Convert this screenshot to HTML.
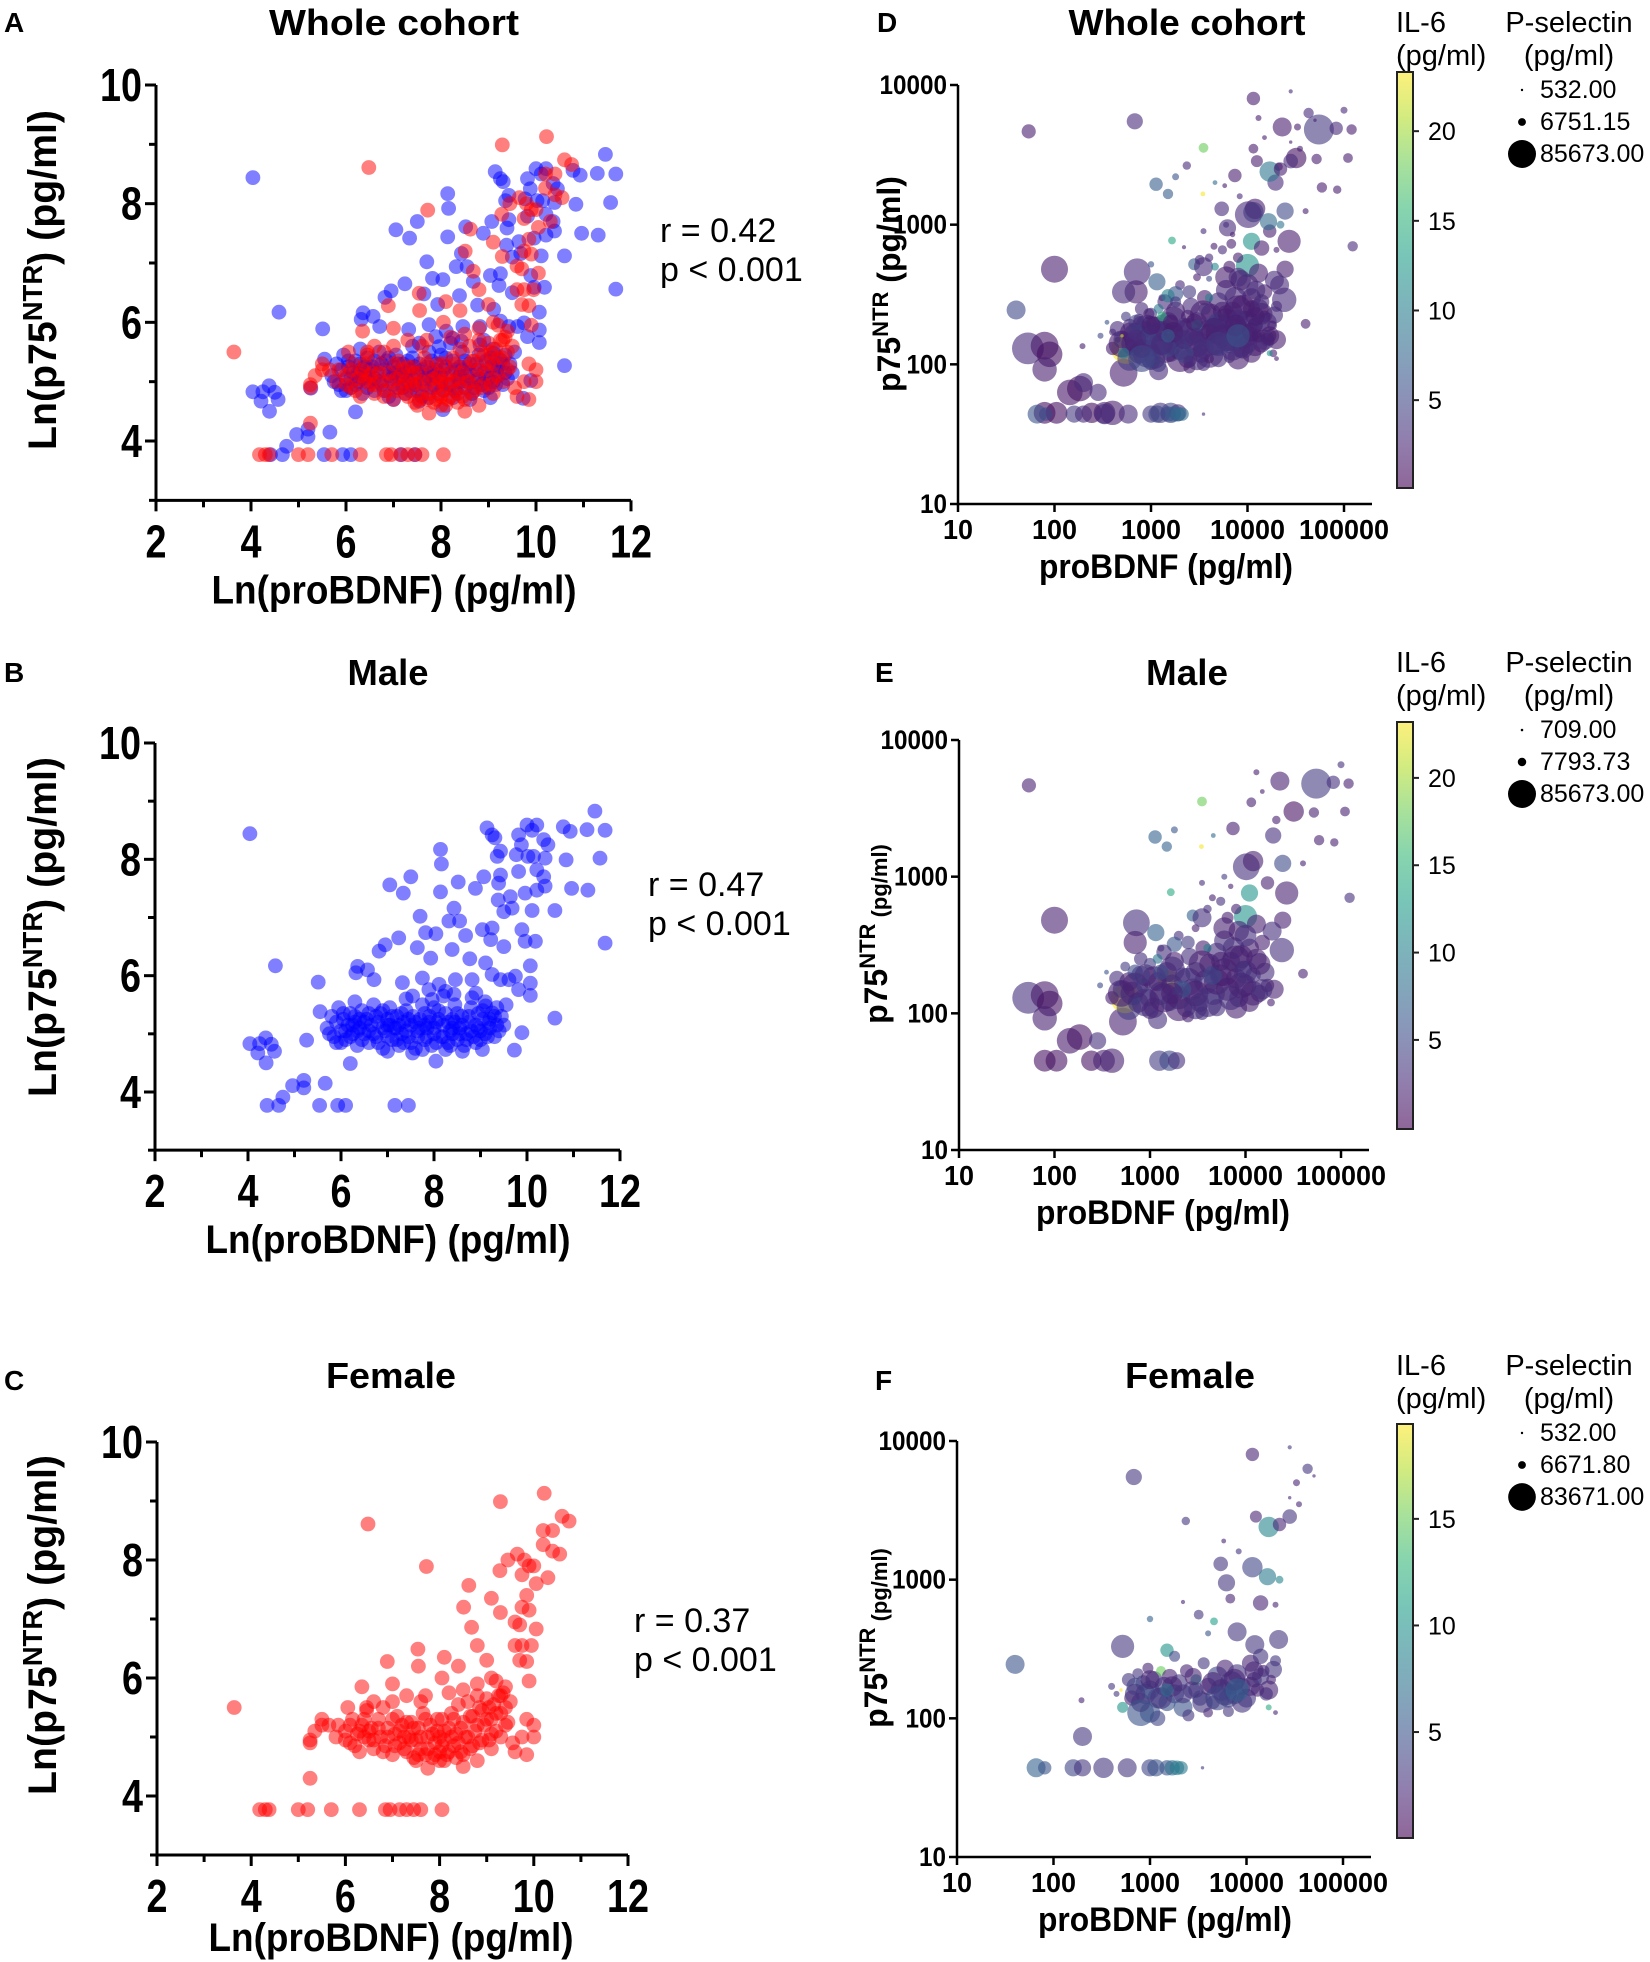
<!DOCTYPE html>
<html><head><meta charset="utf-8"><title>proBDNF vs p75NTR</title>
<style>
html,body{margin:0;padding:0;background:#fff;}
svg{display:block;font-family:"Liberation Sans",Arial,sans-serif;}
</style></head>
<body>
<svg id="fig" width="1650" height="1962" viewBox="0 0 1650 1962" xmlns="http://www.w3.org/2000/svg">
<defs>
<linearGradient id="virGrad" x1="0" y1="1" x2="0" y2="0">
<stop offset="0" stop-color="#440154"/><stop offset="0.111" stop-color="#482878"/><stop offset="0.222" stop-color="#3e4a89"/><stop offset="0.333" stop-color="#31688e"/><stop offset="0.444" stop-color="#26828e"/><stop offset="0.556" stop-color="#1f9e89"/><stop offset="0.667" stop-color="#35b779"/><stop offset="0.778" stop-color="#6dcd59"/><stop offset="0.889" stop-color="#b4de2c"/><stop offset="1" stop-color="#fde725"/>
</linearGradient>
</defs>
</svg>
<script>
// ---------- DATA ----------
const maleLnMain = [
[4.04,8.44],[4.59,6.17],[4.04,4.83],[4.25,4.83],[4.38,4.93],[4.5,4.82],[4.57,4.70],[4.21,4.67],[4.39,4.50],
[4.41,3.77],[4.66,3.77],[5.54,3.77],[5.93,3.77],[6.1,3.77],[7.16,3.77],[7.45,3.77],[4.75,3.91],[4.96,4.11],[5.2,4.2],[5.2,4.07],[5.66,4.15],
[5.26,4.89],[5.55,5.38],[5.51,5.89],[6.2,4.49],
[6.36,6.16],[6.57,6.10],[6.71,5.93],[6.32,6.05],[6.82,6.42],[6.95,6.53],[7.24,6.65],[7.05,7.56],[7.34,7.42],[7.5,7.7],
[7.70,7.02],[7.64,6.48],[7.82,6.74],[7.93,6.30],[8.04,6.72],[8.14,8.17],[8.16,7.92],[8.14,7.44],
[8.43,7.16],[8.52,7.61],[8.32,6.94],[8.55,6.94],[8.68,6.69],[8.77,6.29],[8.82,5.93],[8.39,6.45],
[8.89,7.50],[9.07,7.70],[9.14,8.54],[9.25,8.42],[9.31,8.37],[9.36,8.05],[9.43,8.14],[9.39,7.59],[9.43,7.73],[9.38,7.30],[9.50,7.10],[9.64,7.36],[9.68,7.16],
[9.04,6.79],[9.25,6.82],[9.22,6.62],[9.50,6.50],[9.11,6.22],[9.25,6.02],[9.43,5.93],[9.61,5.93],[9.75,5.99],
[9.77,8.08],[9.82,8.42],[9.88,8.25],[10.0,8.59],[10.11,8.50],[10.21,8.59],[10.02,8.05],[10.14,8.05],[10.36,8.34],[10.45,8.25],[10.39,8.02],[10.21,7.82],[10.36,7.70],[10.39,7.54],[10.21,7.47],[9.96,7.42],[10.11,7.12],[9.82,7.79],[10.6,7.12],
[9.89,6.79],[9.96,6.59],[10.18,6.59],[10.07,6.17],[10.07,5.87],[9.82,5.76],[10.07,5.66],[10.6,5.27],[9.89,5.02],[9.73,4.72],[9.04,4.73],
[10.78,8.56],[10.93,8.48],[11.29,8.51],[11.68,8.50],[11.46,8.83],[10.84,7.99],[11.57,8.02],[10.96,7.50],[11.31,7.47],[11.68,6.56],
[8.11,5.85],[7.89,5.76],[7.54,5.65],[7.32,5.88],[7.75,5.96],[8.46,5.93],[8.25,5.73],[8.43,5.68],[7.96,5.59],
[8.82,5.62],[9.11,5.48],[9.25,5.36],[9.18,5.19],
[7.0,4.70],[7.75,4.73],[8.04,4.53],[8.61,4.70],[8.25,4.73],[7.54,4.67],
[5.7,5.1],[5.8,5.3],[5.85,4.95],[5.9,5.2],[5.95,5.45],[6.0,5.05],[6.05,5.25],[6.1,4.9],[6.15,5.15],[6.2,5.35],[6.25,5.0],[6.3,5.2],[6.35,4.8],[6.4,5.1],[6.45,5.4],[6.5,5.0],[6.55,5.25],[6.6,4.85],[6.65,5.15],[6.7,5.5],[6.75,4.95],[6.8,5.2],[6.85,5.35],[6.9,4.75],[6.95,5.05],[7.0,5.25],[7.05,5.45],[7.1,4.9],[7.15,5.1],[7.2,5.3],[7.25,4.8],[7.3,5.0],[7.35,5.2],[7.4,5.4],[7.45,4.95],[7.5,5.15],[7.55,5.3],[7.6,4.75],[7.65,5.05],[7.7,5.25],[7.75,5.5],[7.8,4.9],[7.85,5.1],[7.9,5.3],[7.95,4.8],[8.0,5.0],[8.05,5.2],[8.1,5.4],[8.15,4.95],[8.2,5.15],[8.25,5.35],[8.3,4.85],[8.35,5.05],[8.4,5.25],[8.45,5.5],[8.5,4.9],[8.55,5.1],[8.6,5.3],[8.65,4.8],[8.7,5.0],[8.75,5.2],[8.8,5.45],[8.85,4.95],[8.9,5.15],[8.95,5.35],[9.0,5.05],[9.05,5.25],[9.1,5.55],[9.15,4.95],[9.2,5.1],[9.3,5.3],[9.35,5.15],[6.0,4.85],[6.6,5.05],[7.2,5.1],[7.8,5.15],[8.4,5.0],[9.0,4.9],[6.3,5.55],[7.4,5.6],[8.2,5.65],[8.9,5.7]
];
const maleLnCluster = [
[5.75,5.0],[5.9,4.85],[6.05,5.35],[6.1,5.05],[6.2,4.95],[6.3,5.3],[6.35,5.05],[6.45,4.9],[6.5,5.2],[6.6,5.35],[6.7,5.0],[6.75,5.3],[6.8,4.85],[6.9,5.1],[7.0,4.95],[7.05,5.15],[7.1,5.3],[7.2,4.9],[7.25,5.15],[7.3,5.35],[7.4,5.05],[7.45,5.25],[7.5,4.85],[7.6,5.2],[7.65,4.95],[7.7,5.1],[7.8,5.35],[7.85,4.95],[7.9,5.2],[8.0,5.1],[8.05,4.85],[8.1,5.25],[8.2,4.95],[8.3,5.2],[8.35,4.8],[8.4,5.1],[8.5,5.35],[8.55,5.0],[8.6,5.15],[8.7,4.9],[8.75,5.3],[8.8,5.05],[8.9,4.85],[8.95,5.1],[9.05,5.4],[9.1,5.0],[9.2,5.25],[9.3,4.95],[9.35,5.45],[9.4,5.05],[9.45,5.3],[9.5,5.15],[9.55,5.5],[6.4,5.25],[6.9,5.4],[7.35,4.85],[8.45,5.2],[8.0,5.45],[7.0,5.15],[6.25,5.15]
];
const femaleLnMain = [
[3.64,5.50],[4.18,3.77],[4.3,3.77],[4.38,3.77],[5.0,3.77],[5.2,3.77],[5.7,3.77],[6.3,3.77],[6.85,3.77],[6.95,3.77],[7.15,3.77],[7.3,3.77],[7.45,3.77],[7.6,3.77],[8.05,3.77],
[5.25,4.3],[5.25,4.9],[5.25,4.95],[5.35,5.1],[5.5,5.3],[5.5,5.2],[5.65,5.2],[5.85,5.2],[5.8,5.0],
[6.48,8.61],[7.72,7.89],[9.29,8.99],[10.22,9.13],[10.6,8.74],[10.75,8.66],[10.2,8.5],[10.4,8.5],[10.2,8.26],[10.4,8.15],[10.55,8.1],
[8.62,7.57],[8.51,7.2],[8.68,6.86],[8.8,6.55],[9.1,7.35],
[9.28,7.82],[9.45,8.0],[9.65,8.1],[9.8,8.0],[9.75,7.75],[9.9,7.9],[10.05,7.6],[10.0,7.9],[10.3,7.7],[9.29,7.11],[9.6,6.95],[9.7,6.9],[9.85,7.4],[9.75,7.2],[9.9,7.15],[10.05,6.83],
[9.6,6.55],[9.75,6.55],[9.95,6.55],[9.7,6.3],[9.85,6.28],[9.0,6.3],[9.1,6.0],[9.2,5.95],[9.4,5.85],[9.9,5.95],[9.85,5.3],[10.0,5.2],[10.0,5.0],[9.75,5.0],[9.6,4.75],[9.85,4.7],[9.1,4.8],
[6.89,6.28],[7.54,6.49],[7.55,6.2],[8.1,6.35],[8.4,6.2],[8.05,6.0],[7.0,5.9],[6.35,5.85],[6.6,5.6],[7.3,5.7],[7.7,5.7],[8.8,5.9],[8.5,5.8],[9.3,5.7],[6.05,5.5],[6.45,5.5],
[7.75,4.47],[8.1,4.6],[8.5,4.5],[8.8,4.6],
[6.0,5.1],[6.1,4.9],[6.15,5.3],[6.25,5.05],[6.3,4.75],[6.35,5.2],[6.45,5.45],[6.5,4.95],[6.55,5.15],[6.6,4.8],[6.7,5.3],[6.75,5.0],[6.8,5.5],[6.85,4.85],[6.9,5.15],[7.0,4.7],[7.05,5.05],[7.1,5.35],[7.15,4.9],[7.2,5.2],[7.3,4.75],[7.35,5.0],[7.4,5.25],[7.45,4.65],[7.5,4.95],[7.55,5.15],[7.6,4.8],[7.65,5.4],[7.7,4.7],[7.75,5.0],[7.8,5.2],[7.85,4.65],[7.9,4.9],[7.95,5.1],[8.0,4.75],[8.05,5.3],[8.1,4.95],[8.15,4.7],[8.2,5.15],[8.25,5.4],[8.3,4.85],[8.35,5.05],[8.4,5.55],[8.45,4.75],[8.5,5.25],[8.55,5.0],[8.6,5.6],[8.65,4.8],[8.7,5.35],[8.75,5.1],[8.8,5.7],[8.85,4.9],[8.9,5.45],[8.95,5.2],[9.0,5.65],[9.05,4.95],[9.1,5.3],[9.15,5.55],[9.2,5.1],[9.3,5.4],[9.35,5.75],[9.4,5.2],[7.0,5.6],[7.6,5.6],[8.2,5.75],[6.4,5.0],[7.25,5.0],[8.0,5.0]
];
const femaleLnCluster = [
[6.0,4.95],[6.1,5.2],[6.2,4.85],[6.3,5.1],[6.4,5.3],[6.5,5.1],[6.6,4.95],[6.7,5.15],[6.8,4.75],[6.9,5.0],[7.0,5.3],[7.05,4.85],[7.15,5.1],[7.25,4.8],[7.3,5.25],[7.4,4.95],[7.45,5.15],[7.55,4.7],[7.6,5.0],[7.7,5.3],[7.75,4.8],[7.85,5.05],[7.9,4.7],[7.95,5.3],[8.05,4.85],[8.1,5.1],[8.2,4.75],[8.25,5.0],[8.3,5.3],[8.4,4.9],[8.45,5.15],[8.5,4.7],[8.6,5.0],[8.65,5.35],[8.7,4.85],[8.8,5.2],[8.85,5.5],[8.9,4.95],[9.0,5.3],[9.05,5.5],[9.1,5.05],[9.2,5.4],[9.25,5.7],[9.3,5.0],[9.4,5.5],[9.45,5.25],[9.5,5.6],[9.55,4.9],[7.5,4.6],[8.0,4.6],[8.35,4.65]
];
const maleLn = maleLnMain.concat(maleLnCluster);
const femaleLn = femaleLnMain.concat(femaleLnCluster);

// [proBDNF, p75NTR, IL-6, P-selectin]
const maleLogMain = [
[54,4650,2,17000],[100,480,2,61000],[53,130,3,85000],[79,136,1.5,65000],[89,118,1,55000],[79,92,2,50000],[79,45,1,40000],[105,45,1,40000],[144,63,1.5,55000],[183,67,1,55000],[283,63,3,25000],[243,45,1,35000],[400,45,2,50000],[330,45,2,40000],[1250,45,4,35000],[1600,45,5,35000],[1900,45,3,25000],[520,87,2,65000],[550,128,23,70000],[1550,175,22,35000],[720,460,3,60000],[3500,3550,18,8000],[3450,1660,23,2000],[1130,1950,7,15000],[1500,1660,7,9000],[1800,2200,6,4000],[1650,770,14,5000],[4600,2000,8,2000],[22900,5000,2,30000],[55000,4800,4,75000],[83000,4900,3,15000],[120000,4800,2,9000],[100000,6600,3,4000],[32000,3000,1,35000],[52000,2950,2,9000],[110000,3000,2,8000],[59000,1850,2,9000],[85000,1780,2,6000],[40000,1250,2,3000],[123000,700,3,9000],[10200,1180,3,60000],[12000,1300,2,35000],[24500,1250,5,25000],[27000,760,2,45000],[11000,760,12,25000],[10000,510,12,45000],[19500,2000,3,22000],[17000,900,2,15000],[24500,480,2,25000],[24000,290,3,50000],[19000,400,3,30000],[20000,150,2,30000],[40000,195,2,8000],[18500,120,2,5000],[7400,2250,2,15000],[11500,3500,2,8000],[13000,5800,2,3000],[15000,4200,2,2000],[21000,2600,2,6000],
[1300,300,3,4000],[2000,370,3,8000],[2500,330,4,15000],[3000,420,2,5000],[4000,580,3,6000],[4500,700,2,4000],[5500,660,3,7000],[6500,500,2,12000],[8000,580,2,9000],[3500,900,3,3000],[6000,1000,4,3000],[7000,850,2,2500],[2800,520,7,12000],[1800,320,6,20000],[1150,390,7,25000],
[300,160,5,3000],[350,200,6,2000],[400,130,2,15000],[450,180,3,20000],[500,150,5,25000],[550,220,4,8000],[600,170,2,30000],[650,140,3,45000],[700,200,5,20000],[750,120,2,35000],[800,250,3,15000],[850,160,6,18000],[900,190,2,40000],[950,130,3,25000],[1000,230,4,12000],[1100,110,2,35000],[1200,170,3,30000],[1300,140,4,45000],[1400,280,3,20000],[1500,200,2,35000],[1600,120,5,25000],[1700,160,3,40000],[1800,240,2,30000],[2000,130,4,45000],[2200,190,3,20000],[2400,110,2,30000],[2600,260,3,25000],[2800,150,2,40000],[3000,200,4,35000],[3300,120,3,30000],[3600,300,2,20000],[3900,170,3,50000],[4200,230,2,35000],[4600,140,4,45000],[5000,280,3,30000],[5500,190,2,40000],[6000,340,3,35000],[6500,150,2,45000],[7000,240,4,30000],[7500,300,3,40000],[8000,180,2,35000],[8500,130,3,30000],[9000,260,2,45000],[9500,210,4,25000],[10000,160,3,40000],[11000,300,2,30000],[12000,190,3,20000],[13000,250,2,35000],[14000,140,3,25000],[15000,330,2,20000],[16000,200,3,30000],[17000,160,2,15000],[5000,110,3,25000],[2500,95,2,12000],[3500,100,3,15000],[1000,105,2,25000],[700,125,8,10000],[1200,250,9,8000],[4000,300,10,6000],[600,110,4,50000],[1200,90,3,30000],[8000,110,2,40000]
];
const maleLogCluster = [
[500,140,2,60000],[700,160,2,55000],[900,120,3,65000],[1100,180,2,50000],[1400,130,2,70000],[1700,210,3,55000],[2000,110,2,60000],[2500,170,3,65000],[3000,140,2,55000],[3500,230,2,60000],[4000,120,3,70000],[5000,170,2,55000],[6000,200,2,65000],[7000,130,3,50000],[8000,250,2,60000],[9000,160,2,55000],[10000,200,3,45000],[12000,140,2,50000],[14000,230,2,40000],[4500,190,5,30000],[2200,150,6,25000],[3000,110,3,45000],[800,190,4,30000],[1300,200,5,20000],[5500,240,2,30000],[6000,420,2,40000],[3500,500,3,30000],[8500,400,2,35000],[13000,450,2,30000],[10000,370,3,40000],[700,330,2,45000],[1700,140,2,40000],[11000,120,2,30000],[15000,150,3,35000]
];
const femaleLogMain = [
[40,245,5,30000],[680,5500,3,22000],[11500,8000,2,15000],[28000,9000,3,1500],[43000,6300,3,9000],[33000,5000,2,4000],[28000,3900,2,1000],[35000,3500,2,3000],[50000,5600,2,1000],[2350,2650,3,6000],[12500,2850,2,12000],[28000,2850,3,18000],[17000,2400,9,35000],[22000,2500,2,15000],[5800,1900,2,2000],[8300,1600,3,3000],[5400,1300,3,18000],[11500,1230,4,35000],[16500,1050,8,25000],[22000,1000,9,5000],[6200,950,3,25000],[6800,730,2,8000],[14000,680,2,20000],[20000,660,2,3000],[3200,560,3,8000],[4600,500,11,5000],[2200,690,2,1500],[1000,520,6,3500],[8000,420,3,30000],[12200,340,3,30000],[21500,370,3,30000],[520,330,3,45000],[19000,225,3,25000],[4000,410,5,3000],[1500,310,10,15000],[1800,280,4,10000],
[66,44,6,30000],[81,44,5,15000],[160,44,4,25000],[200,44,3,25000],[330,44,3,35000],[580,44,3,30000],[1000,44,4,25000],[1150,44,5,25000],[1500,44,5,20000],[1700,44,7,20000],[1900,44,8,18000],[2100,44,8,15000],[3500,44,3,1000],[200,74,3,30000],[195,135,2,3000],[1000,110,5,35000],
[400,170,3,4000],[450,150,3,3000],[500,160,22,1000],[520,120,10,10000],[600,190,3,15000],[650,140,2,20000],[700,170,4,25000],[750,210,3,10000],[800,130,2,30000],[850,180,4,20000],[900,150,3,35000],[950,230,2,10000],[1000,160,5,30000],[1100,190,3,25000],[1200,140,4,35000],[1300,220,15,8000],[1400,170,3,30000],[1500,130,5,25000],[1600,200,2,20000],[1800,150,4,30000],[2000,180,3,25000],[2200,120,5,30000],[2400,220,2,15000],[2700,160,3,25000],[3000,190,10,10000],[3300,140,4,20000],[3600,250,3,12000],[4000,170,2,25000],[4500,130,3,15000],[5000,200,4,35000],[5500,160,3,40000],[6000,230,2,25000],[6500,140,4,30000],[7000,180,3,45000],[7500,150,5,35000],[8000,210,3,30000],[9000,170,4,25000],[10000,140,3,30000],[11000,250,2,25000],[12000,190,3,20000],[13000,160,2,15000],[14000,280,3,20000],[15000,220,2,12000],[16000,150,3,15000],[18000,190,2,8000],[20000,260,3,10000],[2500,105,3,12000],[4000,110,2,8000],[1200,100,4,20000],[6500,112,3,10000],[17000,120,12,3000],[20000,110,2,2000]
];
const femaleLogCluster = [
[700,150,3,35000],[1000,190,2,30000],[1300,140,3,40000],[1700,170,2,35000],[2200,150,3,30000],[2800,200,2,25000],[3500,130,3,35000],[4500,180,2,40000],[6000,150,3,45000],[7500,190,2,40000],[9000,130,3,35000],[11000,170,2,30000],[14000,200,3,25000],[17000,160,2,30000],[800,110,5,60000],[5000,140,4,50000],[8000,160,6,45000],[1500,160,7,15000],[3000,160,3,20000],[12000,220,2,30000]
];
const maleLog = maleLogMain.concat(maleLogCluster);
const femaleLog = femaleLogMain.concat(femaleLogCluster);

const lnXTicks = [2,4,6,8,10,12];
const lnYTicks = [4,6,8,10];
const logXTicks = [10,100,1000,10000,100000];
const logYTicks = [10,100,1000,10000];
const rValues = ['0.42','0.47','0.37'];
const pLabel = 'p < 0.001';
const cbTicksDE = [5,10,15,20];
const cbTicksF = [5,10,15];
const pselLegD = ['532.00','6751.15','85673.00'];
const pselLegE = ['709.00','7793.73','85673.00'];
const pselLegF = ['532.00','6671.80','83671.00'];
const pselLegValD = [532,6751.15,85673];
const pselLegValE = [709,7793.73,85673];
const pselLegValF = [532,6671.8,83671];

// ---------- HELPERS ----------
const NS='http://www.w3.org/2000/svg';
const svg=document.getElementById('fig');
function mk(tag,attrs,parent){const e=document.createElementNS(NS,tag);for(const k in attrs)e.setAttribute(k,attrs[k]);(parent||svg).appendChild(e);return e;}
const vir=[[68,1,84],[72,40,120],[62,74,137],[49,104,142],[38,130,142],[31,158,137],[53,183,121],[109,205,89],[180,222,44],[253,231,37]];
function virc(t){t=Math.max(0,Math.min(1,t));const f=t*9;const i=Math.min(8,Math.floor(f));const u=f-i;return 'rgb('+[0,1,2].map(k=>Math.round(vir[i][k]+(vir[i+1][k]-vir[i][k])*u)).join(',')+')';}
function txt(parent,x,y,s,size,opt){opt=opt||{};const t=mk('text',{x:x,y:y,'font-size':size,'font-weight':opt.bold?'bold':'normal','text-anchor':opt.anchor||'start',fill:'#000'},parent);if(opt.len){t.setAttribute('textLength',opt.len);t.setAttribute('lengthAdjust','spacingAndGlyphs');}if(opt.rot)t.setAttribute('transform','rotate(-90 '+x+' '+y+')');t.textContent=s;return t;}

// ---------- Ln PANELS ----------
function lnPanel(p){
  const g=mk('g',{});
  
  
  const xs=v=>p.x0+(v-2)/10*(p.x1-p.x0);
  const ys=v=>p.y4-(v-4)*(p.y4-p.y10)/6;
  const yb=ys(3);
  const ax=mk('path',{d:'M'+p.x0+' '+ys(10)+'V'+yb+'H'+p.x1,fill:'none',stroke:'#000','stroke-width':3},g);
  
  
  for(let v=3;v<=10;v++){const major=lnYTicks.includes(v);const tk=mk('line',{x1:p.x0,x2:p.x0-(major?11:7),y1:ys(v),y2:ys(v),stroke:'#000','stroke-width':3},g);}
  lnYTicks.forEach(v=>{const t=txt(g,p.x0-14,ys(v)+16,String(v),46,{bold:true,anchor:'end',len:String(v).length*21});});
  for(let v=2;v<=12;v++){const major=lnXTicks.includes(v);const tk=mk('line',{x1:xs(v),x2:xs(v),y1:yb,y2:yb+(major?11:7),stroke:'#000','stroke-width':3},g);}
  lnXTicks.forEach(v=>{const t=txt(g,xs(v),yb+57,String(v),46,{bold:true,anchor:'middle',len:String(v).length*21});});
  p.sets.forEach(s=>{
    const sg=mk('g',{},g);
    
    
    s.data.forEach(d=>{const c=mk('circle',{cx:xs(d[0]).toFixed(1),cy:ys(d[1]).toFixed(1),r:7.4,fill:s.color,'fill-opacity':0.5},sg);});
  });
  const xl=txt(g,p.xlc,yb+p.xlOff,'Ln(proBDNF) (pg/ml)',40,{bold:true,anchor:'middle',len:365});
  
  
  const yl=txt(g,56,p.ylc,'',40,{bold:true,anchor:'middle',rot:true});
  
  
  yl.setAttribute('textLength',340);yl.setAttribute('lengthAdjust','spacingAndGlyphs');
  const a=mk('tspan',{},yl);a.textContent='Ln(p75';
  const b=mk('tspan',{dy:-14,'font-size':28},yl);b.textContent='NTR';
  const c=mk('tspan',{dy:14},yl);c.textContent=') (pg/ml)';
  const r1=txt(g,p.sx,p.sy,'r = '+p.r,34,{});
  
  
  const p1=txt(g,p.sx,p.sy+39,pLabel,34,{});
  
  
}

// ---------- LOG PANELS ----------
function logPanel(p){
  const g=mk('g',{});
  
  
  const xs=v=>p.x10+(Math.log10(v)-1)/4*(p.x1e5-p.x10);
  const ys=v=>p.y10-(Math.log10(v)-1)/3*(p.y10-p.y1e4);
  const ax=mk('path',{d:'M'+p.x10+' '+p.y1e4+'V'+p.y10+'H'+(p.x1e5+28),fill:'none',stroke:'#000','stroke-width':2.5},g);
  
  
  logYTicks.forEach(v=>{const tk=mk('line',{x1:p.x10,x2:p.x10-8,y1:ys(v),y2:ys(v),stroke:'#000','stroke-width':2.5},g);
    const t=txt(g,p.x10-11,ys(v)+9,String(v),27,{bold:true,anchor:'end',len:String(v).length*13.5});});
  logXTicks.forEach(v=>{const tk=mk('line',{x1:xs(v),x2:xs(v),y1:p.y10,y2:p.y10+8,stroke:'#000','stroke-width':2.5},g);
    const t=txt(g,xs(v),p.y10+35,String(v),28,{bold:true,anchor:'middle',len:String(v).length*15});});
  const rad=v=>16*Math.sqrt(v/85673);
  p.sets.forEach(s=>{
    const sg=mk('g',{},g);
    
    
    s.data.forEach(d=>{const col=virc((d[2]-p.cmin)/(p.cmax-p.cmin));const c=mk('circle',{cx:xs(d[0]).toFixed(1),cy:ys(d[1]).toFixed(1),r:Math.max(1.5,rad(d[3])).toFixed(1),fill:col,'fill-opacity':0.6},sg);});
  });
  const xl=txt(g,p.xlc,p.y10+74,'proBDNF (pg/ml)',34,{bold:true,anchor:'middle',len:254});
  
  
  const yl=txt(g,p.ylx,p.ylc,'',p.mainSize,{bold:true,anchor:'middle',rot:true});
  
  
  const a=mk('tspan',{},yl);a.textContent='p75';
  const b=mk('tspan',{dy:-12,'font-size':22},yl);b.textContent='NTR';
  const c=mk('tspan',{dy:12,'font-size':p.unitSize},yl);c.textContent=' (pg/ml)';
  // colorbar
  const cb=mk('g',{},g);
  
  
  mk('rect',{x:1397,y:p.cbTop,width:16,height:p.cbBot-p.cbTop,fill:'url(#virGrad)','fill-opacity':0.6,stroke:'#222','stroke-width':2},cb);
  const cy=v=>p.cbBot-(v-p.cmin)/(p.cmax-p.cmin)*(p.cbBot-p.cbTop);
  p.cbTicks.forEach(v=>{mk('line',{x1:1413,x2:1419,y1:cy(v),y2:cy(v),stroke:'#222','stroke-width':2},cb);
    const t=txt(cb,1428,cy(v)+9,String(v),25,{});});
  const l1=txt(g,1396,p.legY,'IL-6',29,{});
  
  
  const l2=txt(g,1396,p.legY+33,'(pg/ml)',29,{});
  
  
  const l3=txt(g,1569,p.legY,'P-selectin',29,{anchor:'middle'});
  
  
  const l4=txt(g,1569,p.legY+33,'(pg/ml)',29,{anchor:'middle'});
  
  
  p.legLabels.forEach((s,i)=>{const yy=p.legY+66+i*32;
    const d=mk('circle',{cx:1522,cy:yy-8,r:Math.max(1.2,14*Math.sqrt(p.legVals[i]/85673)),fill:'#000'},g);
    
    
    const t=txt(g,1540,yy,s,25,{});
    
    });
}

// ---------- TITLES / LETTERS ----------
function title(x,y,s,len,name){const t=txt(svg,x,y,s,36,{bold:true,anchor:'middle',len:len});}
function letter(x,y,s){const t=txt(svg,x,y,s,28,{bold:true});}
title(394,35,'Whole cohort',250,'title-a');title(388,685,'Male',81,'title-b');title(391,1388,'Female',130,'title-c');
title(1187,35,'Whole cohort',237,'title-d');title(1187,685,'Male',82,'title-e');title(1190,1388,'Female',130,'title-f');
letter(4,32,'A');letter(4,682,'B');letter(4,1390,'C');letter(877,32,'D');letter(875,682,'E');letter(875,1390,'F');

lnPanel({name:'panel-a-whole-cohort',x0:156,x1:631,y10:85,y4:441,xlc:394,ylc:280,sx:660,sy:242,r:rValues[0],xlOff:103,
  sets:[{name:'male-points',data:maleLn,color:'#0000ff'},{name:'female-points',data:femaleLn,color:'#ff0000'}]});
lnPanel({name:'panel-b-male',x0:155,x1:620,y10:743,y4:1092,xlc:388,ylc:927,sx:648,sy:896,r:rValues[1],xlOff:103,
  sets:[{name:'male-points',data:maleLn,color:'#0000ff'}]});
lnPanel({name:'panel-c-female',x0:157,x1:628,y10:1442,y4:1796,xlc:391,ylc:1625,sx:634,sy:1632,r:rValues[2],xlOff:96,
  sets:[{name:'female-points',data:femaleLn,color:'#ff0000'}]});

logPanel({name:'panel-d-whole-cohort',x10:958,x1e5:1344,y1e4:85,y10:504,xlc:1166,ylc:284,ylx:900,mainSize:32,unitSize:32,
  cbTop:72,cbBot:488,cmin:0.1,cmax:23.3,cbTicks:cbTicksDE,legY:32,legLabels:pselLegD,legVals:pselLegValD,
  sets:[{name:'male-bubbles',data:maleLog},{name:'female-bubbles',data:femaleLog}]});
logPanel({name:'panel-e-male',x10:959,x1e5:1341,y1e4:740,y10:1150,xlc:1163,ylc:934,ylx:887,mainSize:32,unitSize:22,
  cbTop:722,cbBot:1129,cmin:-0.1,cmax:23.2,cbTicks:cbTicksDE,legY:672,legLabels:pselLegE,legVals:pselLegValE,
  sets:[{name:'male-bubbles',data:maleLog}]});
logPanel({name:'panel-f-female',x10:957,x1e5:1343,y1e4:1441,y10:1857,xlc:1165,ylc:1638,ylx:887,mainSize:32,unitSize:22,
  cbTop:1424,cbBot:1838,cmin:0.03,cmax:19.45,cbTicks:cbTicksF,legY:1375,legLabels:pselLegF,legVals:pselLegValF,
  sets:[{name:'female-bubbles',data:femaleLog}]});
</script>
</body></html>
